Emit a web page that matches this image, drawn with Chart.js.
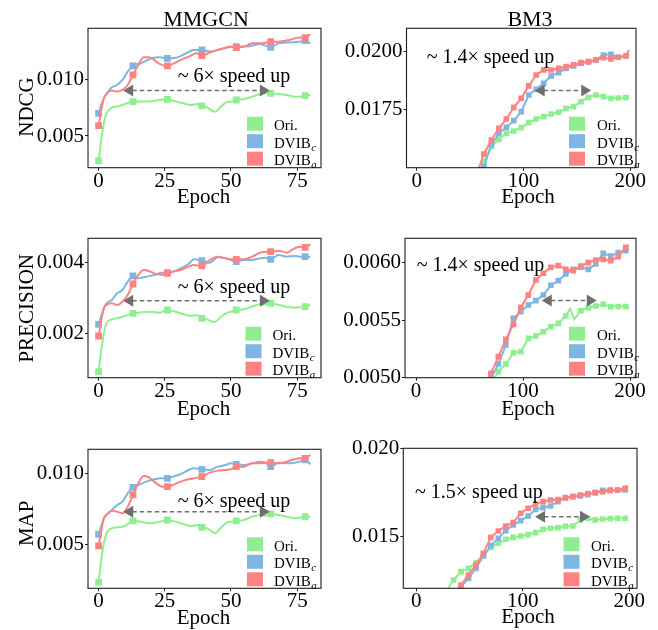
<!DOCTYPE html>
<html><head><meta charset="utf-8">
<script src="https://cdn.jsdelivr.net/npm/chart.js@4.4.1/dist/chart.umd.min.js"></script>
<style>
html,body{margin:0;padding:0;background:#fff;}
#wrap{position:relative;width:658px;height:630px;overflow:hidden;background:#fff;}
canvas{position:absolute;}
</style></head><body><div id="wrap"></div>
<script>
// ---------------- DATA ----------------
const columnTitles = ['MMGCN', 'BM3'];
const rowLabels = ['NDCG', 'PRECISION', 'MAP'];
const seriesNames = ['Ori.', 'DVIB', 'DVIB'];
const seriesSubs = ['', 'c', 'a'];

const mmXTicks = [0, 25, 50, 75];
const mmXTickLabels = ['0', '25', '50', '75'];
const bm3XTicks = [0, 100, 200];
const bm3XTickLabels = ['0', '100', '200'];

const ndcgMmTicks = [0.005, 0.010];
const ndcgMmTickLabels = ['0.005', '0.010'];
const ndcgBm3Ticks = [0.0175, 0.0200];
const ndcgBm3TickLabels = ['0.0175', '0.0200'];
const precMmTicks = [0.002, 0.004];
const precMmTickLabels = ['0.002', '0.004'];
const precBm3Ticks = [0.0050, 0.0055, 0.0060];
const precBm3TickLabels = ['0.0050', '0.0055', '0.0060'];
const mapMmTicks = [0.005, 0.010];
const mapMmTickLabels = ['0.005', '0.010'];
const mapBm3Ticks = [0.015, 0.020];
const mapBm3TickLabels = ['0.015', '0.020'];

const mmMarkerEpochs = [0, 13, 26, 39, 52, 65, 78];

// MMGCN epochs
const mmGreenEpochs = [0,1,2,3,5,7,10,13,16,20,23,26,29,32,35,37,39,41,43,44,46,48,50,52,55,58,61,63,65,68,71,74,76,78,80];
const ndcgMmBlueEpochs = [0,1,2,3,5,7,9,11,13,16,20,23,26,30,33,36,39,42,46,49,52,56,61,65,68,73,76,78,80];
const ndcgMmRedEpochs = [0,1,2,3,5,7,9,11,13,15,17,19,21,23,26,28,31,34,37,39,42,46,50,52,55,58,62,65,68,72,76,78,80];
const mmBlueEpochs = [0,2,3,5,7,9,11,13,15,18,21,24,26,28,31,34,36,39,42,45,48,50,52,55,58,61,63,65,68,71,74,76,78,80];
const mmRedEpochs = [0,2,3,5,7,9,11,13,15,17,19,21,24,26,28,31,34,36,39,42,45,48,50,52,55,58,61,63,65,68,71,74,76,78,80];

// MMGCN NDCG
const ndcgMmOri = [0.00277,0.00464,0.00613,0.00702,0.00753,0.00762,0.00786,0.00807,0.00807,0.00810,0.00821,0.00827,0.00807,0.00792,0.00777,0.00786,0.00768,0.00756,0.00723,0.00717,0.00756,0.00798,0.00807,0.00821,0.00830,0.00851,0.00872,0.00881,0.00881,0.00875,0.00866,0.00851,0.00851,0.00860,0.00866];
const ndcgMmC = [0.00702,0.00777,0.00836,0.00875,0.00935,0.00955,0.01000,0.01074,0.01125,0.01149,0.01193,0.01202,0.01193,0.01202,0.01238,0.01268,0.01268,0.01253,0.01274,0.01292,0.01298,0.01298,0.01321,0.01292,0.01327,0.01336,0.01342,0.01351,0.01327];
const ndcgMmA = [0.00592,0.00732,0.00836,0.00875,0.00905,0.00896,0.00911,0.00955,0.01045,0.01134,0.01202,0.01202,0.01179,0.01143,0.01125,0.01143,0.01179,0.01208,0.01238,0.01217,0.01244,0.01274,0.01298,0.01289,0.01298,0.01327,0.01327,0.01342,0.01342,0.01357,0.01378,0.01378,0.01408];

// MMGCN PRECISION
const precMmOri = [0.000915,0.001528,0.00200,0.002283,0.002396,0.002425,0.002491,0.002566,0.002594,0.002613,0.002585,0.00266,0.002613,0.002547,0.002491,0.002519,0.002425,0.002396,0.00233,0.00233,0.002453,0.002566,0.002613,0.00266,0.002679,0.002755,0.002821,0.002821,0.002849,0.002802,0.002755,0.002726,0.002736,0.002755,0.002802];
const precMmC = [0.002255,0.002708,0.002849,0.002943,0.003132,0.003226,0.003462,0.003623,0.003557,0.003604,0.003651,0.003717,0.003717,0.003745,0.00384,0.003962,0.004094,0.004057,0.004,0.004151,0.004123,0.004075,0.004028,0.004075,0.004075,0.004123,0.004142,0.004094,0.004217,0.00417,0.004189,0.00417,0.00417,0.00417];
const precMmA = [0.001925,0.002708,0.002802,0.002849,0.002802,0.002896,0.003085,0.003396,0.003651,0.003792,0.003764,0.003698,0.003651,0.003698,0.003745,0.003792,0.003887,0.003934,0.003906,0.004075,0.00417,0.004123,0.004094,0.004094,0.004094,0.00417,0.004283,0.004311,0.004311,0.00434,0.004283,0.004406,0.004453,0.004434,0.004519];

// MMGCN MAP
const mapMmOri = [0.002297,0.003885,0.00507,0.005781,0.006137,0.006208,0.006303,0.006658,0.006611,0.006492,0.006611,0.006729,0.006611,0.006445,0.006303,0.006374,0.006208,0.006137,0.0059,0.005781,0.006137,0.006492,0.006611,0.006658,0.006729,0.006966,0.007085,0.007037,0.007156,0.007085,0.006966,0.006848,0.006895,0.006966,0.006966];
const mapMmC = [0.00571,0.006848,0.007085,0.00744,0.007796,0.008033,0.008625,0.009052,0.009218,0.009455,0.009621,0.009692,0.009692,0.00981,0.01,0.010284,0.010403,0.010332,0.010284,0.010521,0.01064,0.010758,0.010687,0.01064,0.010758,0.010877,0.010806,0.010521,0.010806,0.010758,0.010806,0.010877,0.010995,0.010687];
const mapMmA = [0.004881,0.006848,0.007085,0.007393,0.007322,0.007203,0.007677,0.008507,0.009336,0.009858,0.009763,0.009455,0.0091,0.0091,0.009218,0.009455,0.009621,0.009692,0.00981,0.010095,0.010237,0.010284,0.010332,0.010521,0.010521,0.010758,0.010758,0.010806,0.010806,0.010758,0.010877,0.011043,0.011114,0.011114,0.011351];

// BM3 epochs
const ndcgBm3Epochs = [56,63,70,77,84,91,98,105,112,119,126,133,140,147,154,161,168,175,182,189,196,199];
const precBm3OriEpochs = [63,70,77,84,91,98,105,112,119,126,133,140,144,148,154,161,168,175,182,189,196,199];
const precBm3Epochs = [63,70,77,84,91,98,105,112,119,126,133,140,147,154,161,168,175,182,189,196,199];
const mapBm3OriEpochs = [28,35,42,49,56,63,70,77,84,91,98,105,112,119,126,133,140,147,154,161,168,175,182,189,196,199];
const mapBm3Epochs = [35,42,49,56,63,70,77,84,91,98,105,112,119,126,133,140,147,154,161,168,175,182,189,196,199];

// BM3 NDCG
const ndcgBm3Ori = [0.014437,0.015231,0.015882,0.0162,0.01646,0.016561,0.016705,0.016922,0.017081,0.017182,0.017298,0.01737,0.017543,0.017616,0.017832,0.01802,0.018121,0.018049,0.017977,0.017991,0.018006,0.017977];
const ndcgBm3C = [0.014364,0.015015,0.015954,0.01646,0.01672,0.017009,0.017399,0.018121,0.018367,0.018627,0.018945,0.01909,0.019277,0.019379,0.019494,0.019552,0.019639,0.019855,0.019884,0.019754,0.019812,0.019884];
const ndcgBm3A = [0.014653,0.015564,0.016171,0.016676,0.017081,0.017587,0.017977,0.018512,0.018988,0.019205,0.019205,0.019277,0.01935,0.019422,0.019523,0.019566,0.019639,0.01974,0.019682,0.019754,0.019812,0.020072];

// BM3 PRECISION
const precBm3Ori = [0.004835,0.004951,0.005052,0.005119,0.005217,0.005225,0.005341,0.005361,0.005399,0.005442,0.005471,0.005535,0.005598,0.005506,0.005581,0.005607,0.005621,0.005636,0.005616,0.005616,0.005616,0.005616];
const precBm3C = [0.004879,0.004994,0.005119,0.005283,0.005514,0.005572,0.00563,0.005668,0.005717,0.005801,0.005841,0.005899,0.005939,0.005957,0.005939,0.005986,0.006078,0.006055,0.006084,0.006101,0.006113];
const precBm3A = [0.004835,0.005038,0.005182,0.005332,0.005462,0.00561,0.005717,0.005847,0.005905,0.005957,0.005971,0.005939,0.005928,0.005968,0.005997,0.00602,0.006026,0.006014,0.006049,0.00613,0.006142];

// BM3 MAP
const mapBm3Ori = [0.011886,0.012547,0.013019,0.013207,0.013528,0.013962,0.014396,0.014623,0.014849,0.014962,0.015038,0.015113,0.015226,0.015415,0.015472,0.015509,0.015585,0.015604,0.015944,0.016038,0.015944,0.016,0.016019,0.016038,0.016038,0.016038];
const mapBm3C = [0.011603,0.01217,0.012641,0.013207,0.013906,0.014491,0.014906,0.01534,0.01566,0.015906,0.01617,0.016547,0.016642,0.016736,0.016981,0.017208,0.017264,0.017302,0.017378,0.017491,0.017623,0.017642,0.017623,0.017642,0.017604];
const mapBm3A = [0.011509,0.012264,0.01283,0.013396,0.014056,0.014962,0.015321,0.015604,0.015793,0.016321,0.016604,0.016849,0.016981,0.017076,0.017095,0.017189,0.017264,0.017359,0.017434,0.017491,0.017547,0.017604,0.017642,0.017736,0.017868];

const speedLabels = ['~ 6\u00d7 speed up', '~ 1.4\u00d7 speed up', '~ 6\u00d7 speed up', '~ 1.4\u00d7 speed up', '~ 6\u00d7 speed up', '~ 1.5\u00d7 speed up'];

// ---------------- STYLE / LAYOUT ----------------
const FONT = "'Liberation Serif','Times New Roman',Times,serif";
const COLORS = ['#90ee90', '#7eb6e1', '#ff8282'];
const ARROW_COLOR = '#6f6f6f';
const AXIS_COLOR = '#1e1e1e';

const panels = [
  { cell:[0,0,330,210], area:[88,28.3,321,167.7], xr:[-4,84], yr:[0.00217,0.01461], mm:true,
    xt:mmXTicks, xl:mmXTickLabels, yt:ndcgMmTicks, yl:ndcgMmTickLabels,
    series:[[mmGreenEpochs,ndcgMmOri],[ndcgMmBlueEpochs,ndcgMmC],[ndcgMmRedEpochs,ndcgMmA]],
    title:{text:columnTitles[0], x:206, y:26}, ylab:{text:rowLabels[0], x:33, y:107},
    xlab:{x:203.5, y:202.5}, leg:{px:247, tx:274},
    note:{i:0, x:177.7, y:81.7}, arrow:{x0:9.3, x1:64.7, v:0.00905} },
  { cell:[330,0,328,210], area:[406.5,28.3,636,167.7], xr:[-9.5,205.5], yr:[0.01497,0.02101], mm:false,
    xt:bm3XTicks, xl:bm3XTickLabels, yt:ndcgBm3Ticks, yl:ndcgBm3TickLabels,
    series:[[ndcgBm3Epochs,ndcgBm3Ori],[ndcgBm3Epochs,ndcgBm3C],[ndcgBm3Epochs,ndcgBm3A]],
    title:{text:columnTitles[1], x:530, y:26}, ylab:null,
    xlab:{x:528, y:203}, leg:{px:569, tx:597},
    note:{i:1, x:426.7, y:63.3}, arrow:{x0:110.6, x1:163.6, v:0.01831} },
  { cell:[0,210,330,210], area:[88,238.3,321,377.7], xr:[-4,84], yr:[0.000745,0.004689], mm:true,
    xt:mmXTicks, xl:mmXTickLabels, yt:precMmTicks, yl:precMmTickLabels,
    series:[[mmGreenEpochs,precMmOri],[mmBlueEpochs,precMmC],[mmRedEpochs,precMmA]],
    title:null, ylab:{text:rowLabels[1], x:33, y:308.3},
    xlab:{x:203.5, y:414.5}, leg:{px:245.5, tx:272.5},
    note:{i:2, x:177.7, y:292.7}, arrow:{x0:9.3, x1:64.7, v:0.002925} },
  { cell:[330,210,328,210], area:[405,238.3,636,377.7], xr:[-10.3,205.6], yr:[0.0050,0.006208], mm:false,
    xt:bm3XTicks, xl:bm3XTickLabels, yt:precBm3Ticks, yl:precBm3TickLabels,
    series:[[precBm3OriEpochs,precBm3Ori],[precBm3Epochs,precBm3C],[precBm3Epochs,precBm3A]],
    title:null, ylab:null,
    xlab:{x:528, y:414.5}, leg:{px:569, tx:597},
    note:{i:3, x:416.7, y:271}, arrow:{x0:117.5, x1:168.9, v:0.005668} },
  { cell:[0,420,330,210], area:[88,449.3,321,588.3], xr:[-4,84], yr:[0.001872,0.011754], mm:true,
    xt:mmXTicks, xl:mmXTickLabels, yt:mapMmTicks, yl:mapMmTickLabels,
    series:[[mmGreenEpochs,mapMmOri],[mmBlueEpochs,mapMmC],[mmRedEpochs,mapMmA]],
    title:null, ylab:{text:rowLabels[2], x:33, y:523.3},
    xlab:{x:203.5, y:623.5}, leg:{px:247, tx:274},
    note:{i:4, x:177.7, y:507.3}, arrow:{x0:9.3, x1:64.7, v:0.007322} },
  { cell:[330,420,328,210], area:[403.3,448.3,637,588.3], xr:[-12.2,207.2], yr:[0.012075,0.020], mm:false,
    xt:bm3XTicks, xl:bm3XTickLabels, yt:mapBm3Ticks, yl:mapBm3TickLabels,
    series:[[mapBm3OriEpochs,mapBm3Ori],[mapBm3Epochs,mapBm3C],[mapBm3Epochs,mapBm3A]],
    title:null, ylab:null,
    xlab:{x:528, y:622.5}, leg:{px:563.5, tx:591},
    note:{i:5, x:415, y:497.7}, arrow:{x0:111.5, x1:163.1, v:0.01613} }
];

const wrap = document.getElementById('wrap');

function drawArrowHead(ctx, tipX, tipY, dir) {
  const L = 10, H = 6;
  ctx.beginPath();
  ctx.moveTo(tipX, tipY);
  ctx.lineTo(tipX - dir * L, tipY - H);
  ctx.lineTo(tipX - dir * L, tipY + H);
  ctx.closePath();
  ctx.fill();
}

function makePanel(p) {
  const [ox, oy, cw, ch] = p.cell;
  const [al, at, ar, ab] = p.area;
  const cv = document.createElement('canvas');
  cv.width = cw; cv.height = ch;
  cv.style.left = ox + 'px'; cv.style.top = oy + 'px';
  cv.style.width = cw + 'px'; cv.style.height = ch + 'px';
  wrap.appendChild(cv);

  const isMarker = p.mm ? (x => mmMarkerEpochs.includes(x)) : (x => x % 7 === 0);
  const mr = p.mm ? 4.8 : 4.0;

  const datasets = p.series.map((s, k) => ({
    data: s[0].map((x, i) => ({ x: x, y: s[1][i] })),
    borderColor: COLORS[k],
    backgroundColor: COLORS[k],
    borderWidth: 2,
    pointStyle: 'rect',
    pointRadius: c => (c.raw && isMarker(c.raw.x)) ? mr : 0,
    pointHoverRadius: 0,
    pointBorderWidth: 0,
    tension: p.mm ? 0.4 : 0,
    cubicInterpolationMode: p.mm ? 'monotone' : 'default',
    fill: false,
    order: 3 - k
  }));

  const decor = {
    id: 'decor' + p.note.i,
    afterDraw(chart) {
      const ctx = chart.ctx;
      const ca = chart.chartArea;
      const xs = chart.scales.x, ys = chart.scales.y;
      ctx.save();
      // frame
      ctx.strokeStyle = AXIS_COLOR;
      ctx.lineWidth = 1.1;
      ctx.strokeRect(ca.left, ca.top, ca.right - ca.left, ca.bottom - ca.top);

      // annotation arrow
      const ay = ys.getPixelForValue(p.arrow.v);
      const ax0 = xs.getPixelForValue(p.arrow.x0);
      const ax1 = xs.getPixelForValue(p.arrow.x1);
      ctx.strokeStyle = ARROW_COLOR;
      ctx.fillStyle = ARROW_COLOR;
      ctx.lineWidth = 1.5;
      ctx.setLineDash([4.5, 3]);
      ctx.beginPath();
      ctx.moveTo(ax0 + 9, ay);
      ctx.lineTo(ax1 - 9, ay);
      ctx.stroke();
      ctx.setLineDash([]);
      drawArrowHead(ctx, ax0, ay, -1);
      drawArrowHead(ctx, ax1, ay, 1);

      // annotation text
      ctx.fillStyle = '#000';
      ctx.font = '20px ' + FONT;
      ctx.textAlign = 'left';
      ctx.textBaseline = 'alphabetic';
      ctx.fillText(speedLabels[p.note.i], p.note.x - ox, p.note.y - oy);

      // legend
      for (let k = 0; k < 3; k++) {
        const top = ca.bottom - 51 + k * 17.5;
        ctx.fillStyle = COLORS[k];
        ctx.fillRect(p.leg.px - ox, top, 16, 14);
        ctx.fillStyle = '#000';
        ctx.font = '15px ' + FONT;
        ctx.textAlign = 'left';
        ctx.textBaseline = 'alphabetic';
        const tx = p.leg.tx - ox, ty = top + 13.5;
        ctx.fillText(seriesNames[k], tx, ty);
        if (seriesSubs[k]) {
          const w = ctx.measureText(seriesNames[k]).width;
          ctx.font = 'italic 11px ' + FONT;
          ctx.fillText(seriesSubs[k], tx + w + 0.5, ty + 3);
        }
      }

      // column title
      if (p.title) {
        ctx.fillStyle = '#000';
        ctx.font = '22px ' + FONT;
        ctx.textAlign = 'center';
        ctx.textBaseline = 'alphabetic';
        ctx.fillText(p.title.text, p.title.x - ox, p.title.y - oy);
      }
      // x axis label
      ctx.fillStyle = '#000';
      ctx.font = '21px ' + FONT;
      ctx.textAlign = 'center';
      ctx.textBaseline = 'alphabetic';
      ctx.fillText('Epoch', p.xlab.x - ox, p.xlab.y - oy);
      // y axis label
      if (p.ylab) {
        ctx.save();
        ctx.translate(p.ylab.x - ox, p.ylab.y - oy);
        ctx.rotate(-Math.PI / 2);
        ctx.font = '21px ' + FONT;
        ctx.textAlign = 'center';
        ctx.textBaseline = 'alphabetic';
        ctx.fillText(p.ylab.text, 0, 0);
        ctx.restore();
      }
      ctx.restore();
    }
  };

  new Chart(cv, {
    type: 'line',
    data: { datasets },
    options: {
      responsive: false,
      animation: false,
      devicePixelRatio: 1,
      events: [],
      layout: { padding: { left: 0, top: at - oy, right: ox + cw - ar, bottom: 0 } },
      plugins: { legend: { display: false }, tooltip: { enabled: false }, title: { display: false } },
      scales: {
        x: {
          type: 'linear', min: p.xr[0], max: p.xr[1],
          afterBuildTicks: s => { s.ticks = p.xt.map(v => ({ value: v })); },
          afterFit: s => { s.height = oy + ch - ab; },
          grid: { drawOnChartArea: false, drawTicks: true, tickLength: 3, color: AXIS_COLOR, lineWidth: 1 },
          border: { display: false },
          ticks: { autoSkip: false, maxRotation: 0, minRotation: 0, padding: 0, color: '#000',
                   font: { family: FONT, size: 21, lineHeight: 1 },
                   callback: (v, i) => p.xl[i] }
        },
        y: {
          type: 'linear', min: p.yr[0], max: p.yr[1],
          afterBuildTicks: s => { s.ticks = p.yt.map(v => ({ value: v })); },
          afterFit: s => { s.width = al - ox; },
          grid: { drawOnChartArea: false, drawTicks: true, tickLength: 3, color: AXIS_COLOR, lineWidth: 1 },
          border: { display: false },
          ticks: { autoSkip: false, padding: 1, color: '#000',
                   font: { family: FONT, size: 21, lineHeight: 1.2 },
                   callback: (v, i) => p.yl[i] }
        }
      }
    },
    plugins: [decor]
  });
}

panels.forEach(makePanel);
</script>
</body></html>
